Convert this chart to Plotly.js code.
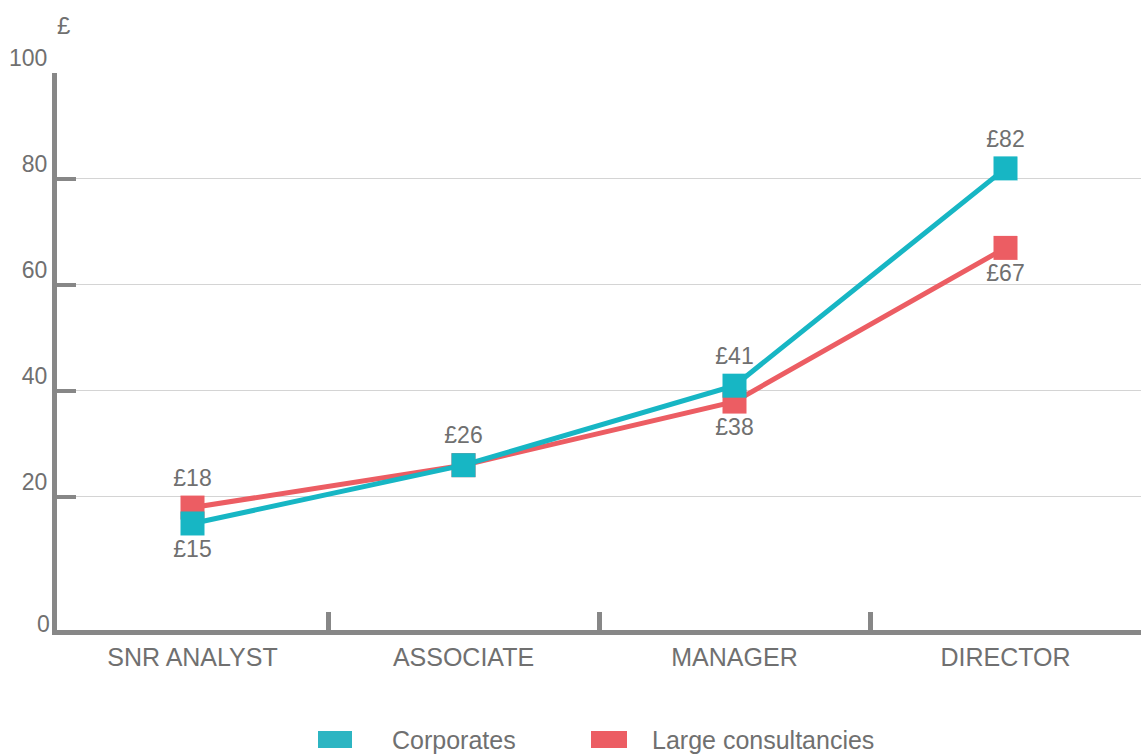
<!DOCTYPE html>
<html>
<head>
<meta charset="utf-8">
<script src="https://cdn.plot.ly/plotly-3.0.1.min.js"></script>
<style>
  html, body { margin: 0; padding: 0; background: #ffffff; }
  #chart { width: 1143px; height: 754px; }
</style>
</head>
<body>
<div id="chart"></div>
<script>
const categories = ['SNR ANALYST', 'ASSOCIATE', 'MANAGER', 'DIRECTOR'];
const corporates = [15, 26, 41, 82];
const consultancies = [18, 26, 38, 67];
const corporatesLabelShown = [true, false, true, true];
const corporatesLabelPos = ['bottom center', 'top center', 'top center', 'top center'];
const consultanciesLabelPos = ['top center', 'top center', 'bottom center', 'bottom center'];
const yTickVals = [20, 40, 60, 80, 100];
const seriesNames = ['Corporates', 'Large consultancies'];

const TEAL = '#17b6c4';
const RED = '#ec5d63';
const LEG_TEAL = '#2db5c2';
const GREY = '#878787';
const TXT = '#707070';
const FONT = 'Liberation Sans, Arial, Helvetica, sans-serif';
const yMin = -5.1;

const fmt = v => '£' + v;

const traces = [
  {
    x: categories, y: consultancies, type: 'scatter', mode: 'lines+markers+text',
    name: seriesNames[1],
    line: { color: RED, width: 5 },
    marker: { symbol: 'square', size: 24, color: RED },
    text: consultancies.map(fmt), textposition: consultanciesLabelPos,
    textfont: { family: FONT, size: 23, color: TXT },
    showlegend: false, cliponaxis: false, hoverinfo: 'skip'
  },
  {
    x: categories, y: corporates, type: 'scatter', mode: 'lines+markers+text',
    name: seriesNames[0],
    line: { color: TEAL, width: 5 },
    marker: { symbol: 'square', size: 24, color: TEAL },
    text: corporates.map((v, i) => corporatesLabelShown[i] ? fmt(v) : ''),
    textposition: corporatesLabelPos,
    textfont: { family: FONT, size: 23, color: TXT },
    showlegend: false, cliponaxis: false, hoverinfo: 'skip'
  }
];

// Legend (swatches + labels), positioned in paper space below the plot
const PX0 = 57, PW = 1084, PY0 = 630, PH = 557;
const px = v => (v - PX0) / PW;
const py = v => (PY0 - v) / PH;
const legendItems = [
  { name: seriesNames[0], color: LEG_TEAL, x0: 318, x1: 352, tx: 390 },
  { name: seriesNames[1], color: RED, x0: 591, x1: 627, tx: 650 }
];
const legendShapes = legendItems.map(it => ({
  type: 'rect', xref: 'paper', yref: 'paper',
  x0: px(it.x0), x1: px(it.x1), y0: py(748), y1: py(731),
  fillcolor: it.color, line: { width: 0 }
}));
const legendLabels = legendItems.map(it => ({
  text: it.name, xref: 'paper', yref: 'paper', x: px(it.tx), y: py(740),
  xanchor: 'left', yanchor: 'middle', showarrow: false,
  font: { family: FONT, size: 25, color: TXT }
}));

const layout = {
  width: 1143, height: 754,
  margin: { l: 57, r: 2, t: 73, b: 124, autoexpand: false },
  paper_bgcolor: '#ffffff', plot_bgcolor: '#ffffff',
  font: { family: FONT, size: 24, color: TXT },
  showlegend: false,
  xaxis: {
    type: 'category', range: [-0.5, 3.5], fixedrange: true,
    showline: true, linecolor: GREY, linewidth: 5,
    tickson: 'boundaries', ticks: 'inside', ticklen: 18, tickwidth: 5, tickcolor: GREY,
    showgrid: false, zeroline: false,
    tickfont: { family: FONT, size: 25, color: TXT }, ticklabelstandoff: 1
  },
  yaxis: {
    range: [yMin, 100], fixedrange: true,
    tickmode: 'array', tickvals: yTickVals, ticktext: yTickVals.map(String),
    showline: true, linecolor: GREY, linewidth: 5,
    ticks: 'inside', ticklen: 19, tickwidth: 4, tickcolor: GREY,
    showgrid: true, gridcolor: '#d4d4d4', gridwidth: 1, zeroline: false,
    tickfont: { family: FONT, size: 23, color: TXT },
    ticklabelshift: -15, ticklabelstandoff: 0
  },
  shapes: legendShapes,
  annotations: [
    { text: '0', xref: 'paper', yref: 'y', x: 0, y: yMin, xanchor: 'right', yanchor: 'middle',
      xshift: -5, yshift: 6, showarrow: false, font: { family: FONT, size: 23, color: TXT } },
    { text: '£', xref: 'paper', yref: 'paper', x: 0, y: 1, xanchor: 'center', yanchor: 'middle',
      xshift: 6, yshift: 48, showarrow: false, font: { family: FONT, size: 24, color: TXT } }
  ].concat(legendLabels)
};

Plotly.newPlot('chart', traces, layout, { displayModeBar: false, staticPlot: true });
</script>
</body>
</html>
